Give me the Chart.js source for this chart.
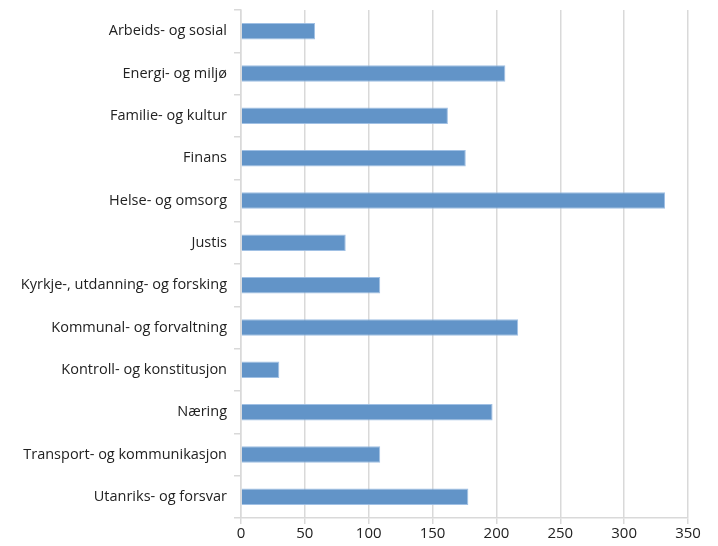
<!DOCTYPE html>
<html><head><meta charset="utf-8">
<script src="https://cdn.jsdelivr.net/npm/chart.js@4"></script>
<style>html,body{margin:0;padding:0;background:#fff;}#wrap{width:718px;height:546px;}</style>
</head><body><div id="wrap"><canvas id="c" width="718" height="546"></canvas></div>
<script>
const categories = ["Arbeids- og sosial","Energi- og miljø","Familie- og kultur","Finans","Helse- og omsorg","Justis","Kyrkje-, utdanning- og forsking","Kommunal- og forvaltning","Kontroll- og konstitusjon","Næring","Transport- og kommunikasjon","Utanriks- og forsvar"];
const values = [58, 207, 162, 176, 332, 82, 109, 217, 30, 197, 109, 178];
const xTicks = [0, 50, 100, 150, 200, 250, 300, 350];

new Chart(document.getElementById('c'), {
  type: 'bar',
  data: { labels: categories, datasets: [{ data: values, backgroundColor: 'rgb(98,148,200)', borderColor: 'rgba(150,185,225,0.9)', borderWidth: 1, barPercentage: 0.78, categoryPercentage: 0.5 }] },
  options: {
    indexAxis: 'y', responsive: false, animation: false,
    layout: { padding: { left: 0, right: 30, top: 10, bottom: 2 } },
    plugins: { legend: { display: false }, tooltip: { enabled: false } },
    scales: {
      x: {
        min: xTicks[0], max: xTicks[xTicks.length-1],
        afterBuildTicks: s => { s.ticks = xTicks.map(v => ({ value: v })); },
        grid: { color: '#d9d9d9', lineWidth: 1.5, tickLength: 6, drawTicks: true },
        border: { color: '#d9d9d9', width: 1.5 },
        ticks: { color: '#222', font: { family: 'Open Sans', size: 15 }, padding: 1 }
      },
      y: {
        afterFit: s => { s.width = 241; s.paddingTop = 0; s.paddingBottom = 0; },
        grid: { display: true, drawOnChartArea: false, color: '#d9d9d9', lineWidth: 1.5, tickLength: 7, offset: true },
        border: { color: '#d9d9d9', width: 1.5 },
        ticks: { color: '#222', font: { family: 'Open Sans', size: 14.5 }, padding: 7 }
      }
    }
  }
});
</script></body></html>
